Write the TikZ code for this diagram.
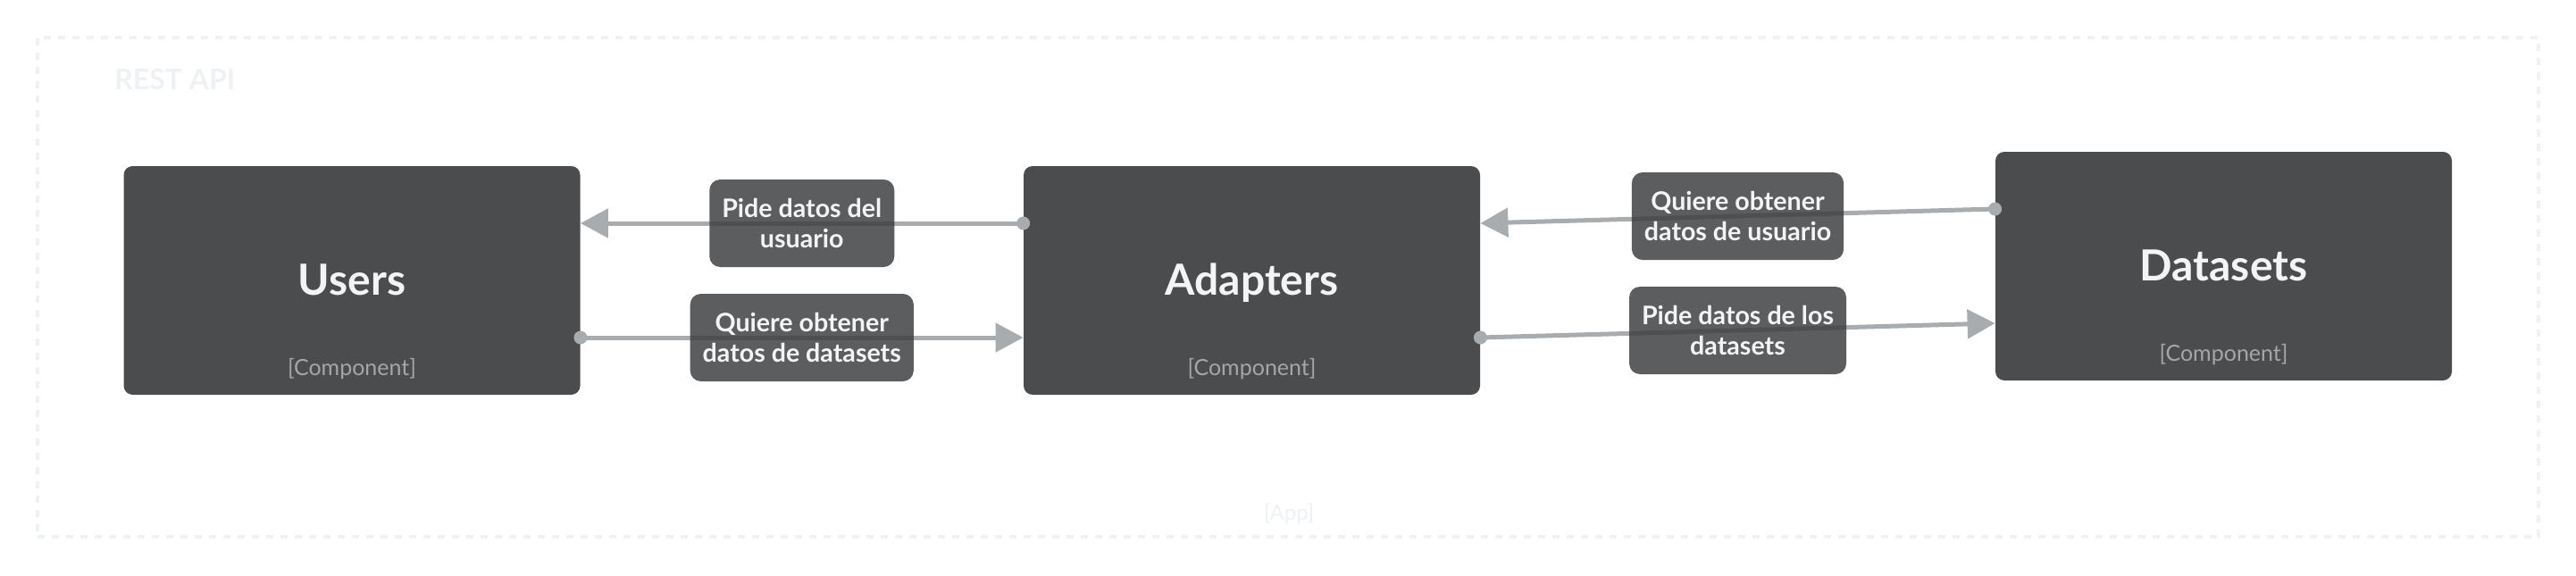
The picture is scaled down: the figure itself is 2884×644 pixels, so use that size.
\documentclass[tikz,border=0pt]{standalone}
\usepackage{fontspec}
\setmainfont{Lato}
\usetikzlibrary{arrows.meta,calc}
\definecolor{boxcol}{HTML}{4B4C4E}
\definecolor{titlecol}{HTML}{F2F4F6}
\definecolor{metacol}{HTML}{A4A6A8}
\definecolor{linecol}{HTML}{A9ACAE}
\definecolor{bndcol}{HTML}{EEF2F5}
\definecolor{lblcol}{HTML}{3D3E40}
\begin{document}
\begin{tikzpicture}[x=0.5pt,y=0.5pt,
  compbox/.style={draw=none, fill=boxcol, rounded corners=5pt, minimum width=255.5pt, minimum height=128pt, inner sep=0pt},
  comptitle/.style={text=titlecol, font=\fontsize{24}{28}\selectfont\bfseries, anchor=base, inner sep=0pt},
  compmeta/.style={text=metacol, font=\fontsize{12.5}{14}\selectfont, anchor=base, inner sep=0pt},
  rel/.style={draw=linecol, line width=2.5pt, -{Triangle[length=15.5pt,width=16pt]}},
  rellabel/.style={fill=lblcol, fill opacity=0.84, text opacity=1, text=titlecol, rounded corners=6pt, font=\fontsize{14.3}{17}\selectfont\bfseries, align=center, inner xsep=7pt, minimum height=49pt},
  reldot/.style={fill=linecol},
  bnd/.style={draw=bndcol, line width=2pt, dash pattern=on 4pt off 4pt, minimum width=1400pt, minimum height=279.5pt, inner sep=0pt}
]
\useasboundingbox (0,0) rectangle (2884,644);
\fill[white] (0,0) rectangle (2884,644);
% boundary
\node[bnd] (boundary) at (1442,322.5) {};
\node[anchor=base west, inner sep=0pt, text=bndcol, font=\fontsize{16}{19}\selectfont\bfseries] (bname) at (128,543) {REST API};
\node[anchor=base, inner sep=0pt, text=bndcol, font=\fontsize{12}{14}\selectfont] (bmeta) at (1443,62) {[App]};
% components
\node[compbox] (users) at (394,330) {};
\node[compbox] (adapters) at (1401.5,330) {};
\node[compbox] (datasets) at (2489.5,346) {};
\node[comptitle] (userst) at ($(users.center)+(0,-16)$) {Users};
\node[compmeta] (usersm) at ($(users.center)+(0,-106)$) {[Component]};
\node[comptitle] (adapterst) at ($(adapters.center)+(0,-16)$) {Adapters};
\node[compmeta] (adaptersm) at ($(adapters.center)+(0,-106)$) {[Component]};
\node[comptitle] (datasetst) at ($(datasets.center)+(0,-16)$) {Datasets};
\node[compmeta] (datasetsm) at ($(datasets.center)+(0,-106)$) {[Component]};
% relationships
\draw[rel] ([yshift=32pt]adapters.west) -- node[rellabel] (l1) {Pide datos del\\usuario} ([yshift=32pt]users.east);
\fill[reldot] ([yshift=32pt]adapters.west) circle[radius=3.75pt];
\draw[rel] ([yshift=-32pt]users.east) -- node[rellabel] (l2) {Quiere obtener\\datos de datasets} ([yshift=-32pt]adapters.west);
\fill[reldot] ([yshift=-32pt]users.east) circle[radius=3.75pt];
\draw[rel] ([yshift=32pt]datasets.west) -- node[rellabel] (l3) {Quiere obtener\\datos de usuario} ([yshift=32pt]adapters.east);
\fill[reldot] ([yshift=32pt]datasets.west) circle[radius=3.75pt];
\draw[rel] ([yshift=-32pt]adapters.east) -- node[rellabel] (l4) {Pide datos de los\\datasets} ([yshift=-32pt]datasets.west);
\fill[reldot] ([yshift=-32pt]adapters.east) circle[radius=3.75pt];
\end{tikzpicture}
\end{document}
